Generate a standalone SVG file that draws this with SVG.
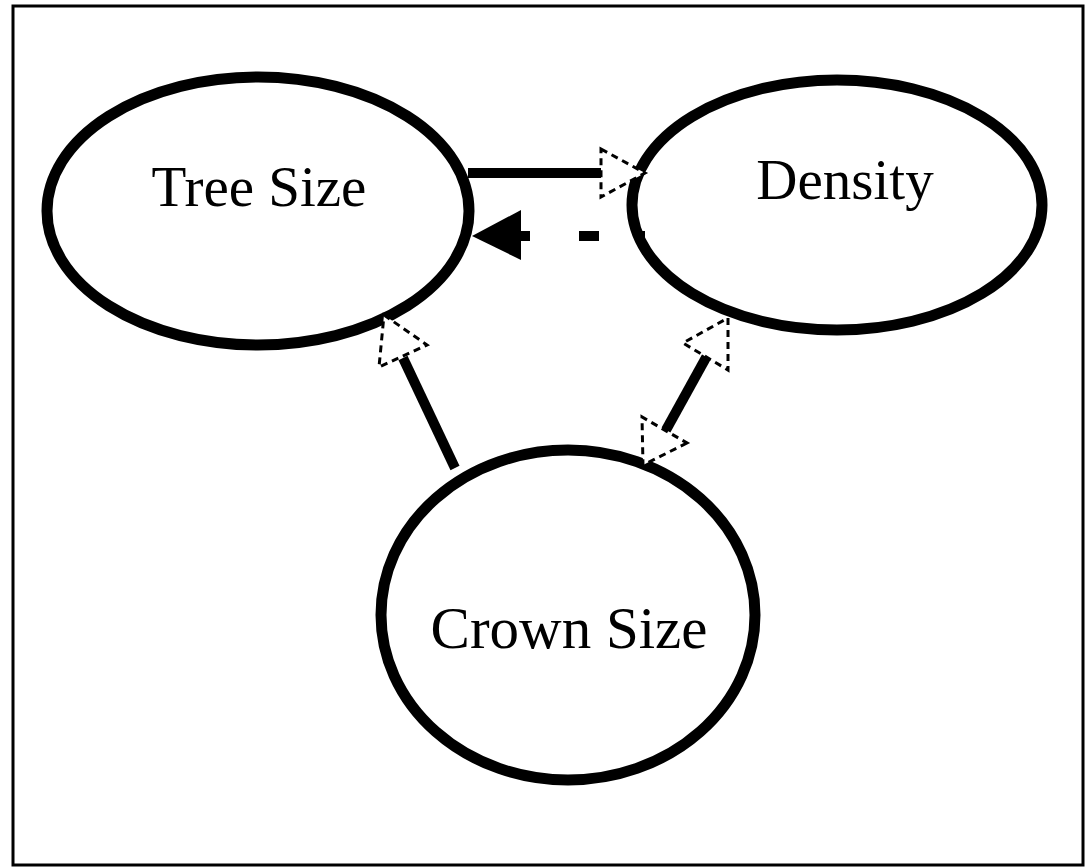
<svg xmlns="http://www.w3.org/2000/svg" width="1086" height="868" viewBox="0 0 1086 868">
  <style>
    .node { fill: #fff; stroke: #000; stroke-width: 11; }
    .label { font-family: "Liberation Serif", "Times New Roman", serif; font-size: 57px; fill: #000; text-anchor: middle; }
    .edge { stroke: #000; stroke-width: 10; fill: none; }
    .hollow { fill: #fff; stroke: #000; stroke-width: 3; stroke-dasharray: 7 5; }
    .solidhead { fill: #000; stroke: none; }
  </style>
  <rect x="13" y="6" width="1070" height="859" fill="#fff" stroke="#000" stroke-width="3"/>

  <g id="tree-size">
    <ellipse class="node" cx="258" cy="211" rx="211" ry="134"/>
    <text class="label" x="259" y="206">Tree Size</text>
  </g>
  <g id="density">
    <ellipse class="node" cx="837" cy="205" rx="205" ry="125"/>
    <text class="label" x="845" y="199">Density</text>
  </g>
  <g id="crown-size">
    <ellipse class="node" cx="568" cy="615" rx="187" ry="165"/>
    <text class="label" x="569" y="648" style="font-size:59px">Crown Size</text>
  </g>

  <g id="connectors">
    <!-- Tree Size to Density -->
    <line class="edge" x1="468" y1="173" x2="602" y2="173"/>
    <polygon class="hollow" points="601,149 645,173 601,197"/>
    <!-- Density to Tree Size (dashed) -->
    <line class="edge" x1="645" y1="236" x2="520" y2="236" stroke-dasharray="8 38 20 49 40 0"/>
    <polygon class="solidhead" points="472,236 521,210 521,260"/>
    <!-- Crown Size to Tree Size -->
    <line class="edge" x1="455" y1="468" x2="403" y2="358"/>
    <polygon class="hollow" points="384,315 427,345 379,367"/>
    <!-- Density to Crown Size (both ends) -->
    <line class="edge" x1="666" y1="430" x2="708" y2="354"/>
    <polygon class="hollow" points="728,318 728,370 683,343"/>
    <polygon class="hollow" points="687,443 643,465 642,417"/>
  </g>
</svg>
